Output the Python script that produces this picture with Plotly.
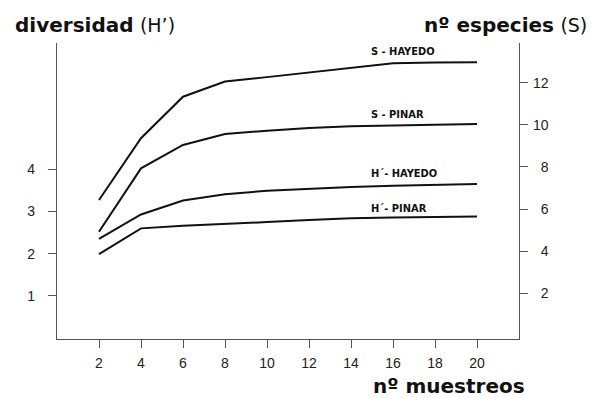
import plotly.graph_objects as go

# ---- data ----
muestreos = [2, 4, 6, 8, 10, 12, 14, 16, 18, 20]
s_hayedo = [6.43, 9.36, 11.33, 12.05, 12.26, 12.48, 12.70, 12.92, 12.95, 12.97]
s_pinar = [4.92, 7.93, 9.04, 9.56, 9.72, 9.85, 9.93, 9.98, 10.00, 10.04]
h_hayedo = [2.35, 2.93, 3.26, 3.41, 3.49, 3.54, 3.58, 3.61, 3.63, 3.65]
h_pinar = [1.99, 2.60, 2.66, 2.70, 2.75, 2.80, 2.84, 2.86, 2.87, 2.88]

x_ticks = [2, 4, 6, 8, 10, 12, 14, 16, 18, 20]
h_ticks = [1, 2, 3, 4]
s_ticks = [2, 4, 6, 8, 10, 12]
s_ticktext = ["\u2007" * (2 - len(str(v))) + str(v) for v in s_ticks]

series_labels = ["S - HAYEDO", "S - PINAR", "H\u00b4- HAYEDO", "H\u00b4- PINAR"]

LINE = dict(color="#111111", width=2)
AX = "#555555"
TICKFONT = dict(family="Liberation Sans, Arial, sans-serif", size=14, color="#222222")
LABFONT = dict(family="Liberation Sans Narrow, DejaVu Sans Condensed, Arial Narrow, sans-serif",
               size=11, color="#111111")

fig = go.Figure()
fig.add_trace(go.Scatter(x=muestreos, y=s_hayedo, yaxis="y2", mode="lines", line=LINE))
fig.add_trace(go.Scatter(x=muestreos, y=s_pinar, yaxis="y2", mode="lines", line=LINE))
fig.add_trace(go.Scatter(x=muestreos, y=h_hayedo, yaxis="y", mode="lines", line=LINE))
fig.add_trace(go.Scatter(x=muestreos, y=h_pinar, yaxis="y", mode="lines", line=LINE))

# curve labels
label_pos = [(14.85, 13.47, "y2"), (14.85, 10.47, "y2"), (14.85, 3.91, "y"), (14.85, 3.08, "y")]
for (lx, ly, yr), txt in zip(label_pos, series_labels):
    fig.add_annotation(x=lx, y=ly, xref="x", yref=yr, text="<b>" + txt + "</b>",
                       showarrow=False, xanchor="left", yanchor="middle", font=LABFONT)

TITLEFONT = dict(family="DejaVu Sans, sans-serif", size=20, color="#111111")
fig.add_annotation(x=-0.0952, y=1.061, xref="paper", yref="paper",
                   text="<b>diversidad</b> <span style='font-size:19px'>(H\u2019)</span>",
                   showarrow=False, xanchor="left", yanchor="middle", font=TITLEFONT)
fig.add_annotation(x=0.790, y=1.061, xref="paper", yref="paper",
                   text="<b>n\u00ba especies</b> <span style='font-size:19px'>(S)</span>",
                   showarrow=False, xanchor="left", yanchor="middle", font=TITLEFONT)
fig.add_annotation(x=1.017, y=-0.159, xref="paper", yref="paper",
                   text="<b>n\u00ba muestreos</b>",
                   showarrow=False, xanchor="right", yanchor="middle", font=TITLEFONT)

fig.update_layout(
    width=594, height=398,
    margin=dict(l=57, r=75, t=43, b=59, pad=0),
    paper_bgcolor="white", plot_bgcolor="white",
    showlegend=False,
    xaxis=dict(range=[0, 22], tickvals=x_ticks, showgrid=False, zeroline=False,
               showline=True, linecolor=AX, linewidth=1.3, ticks="outside", ticklen=8,
               tickcolor=AX, tickwidth=1.3, tickfont=TICKFONT, ticklabelstandoff=3),
    yaxis=dict(range=[-0.02, 6.99], tickvals=h_ticks, showgrid=False, zeroline=False,
               showline=True, linecolor=AX, linewidth=1.3, ticks="outside", ticklen=8,
               tickcolor=AX, tickwidth=1.3, tickfont=TICKFONT, ticklabelstandoff=10),
    yaxis2=dict(range=[-0.17, 13.88], tickvals=s_ticks, ticktext=s_ticktext,
                overlaying="y", side="right", showgrid=False, zeroline=False,
                showline=True, linecolor=AX, linewidth=1.3, ticks="outside", ticklen=8,
                tickcolor=AX, tickwidth=1.3, tickfont=TICKFONT, ticklabelstandoff=2),
)

fig.write_html("out.html", config={"displayModeBar": False},
               post_script="document.body.style.margin='0px';document.body.style.overflow='hidden';")
